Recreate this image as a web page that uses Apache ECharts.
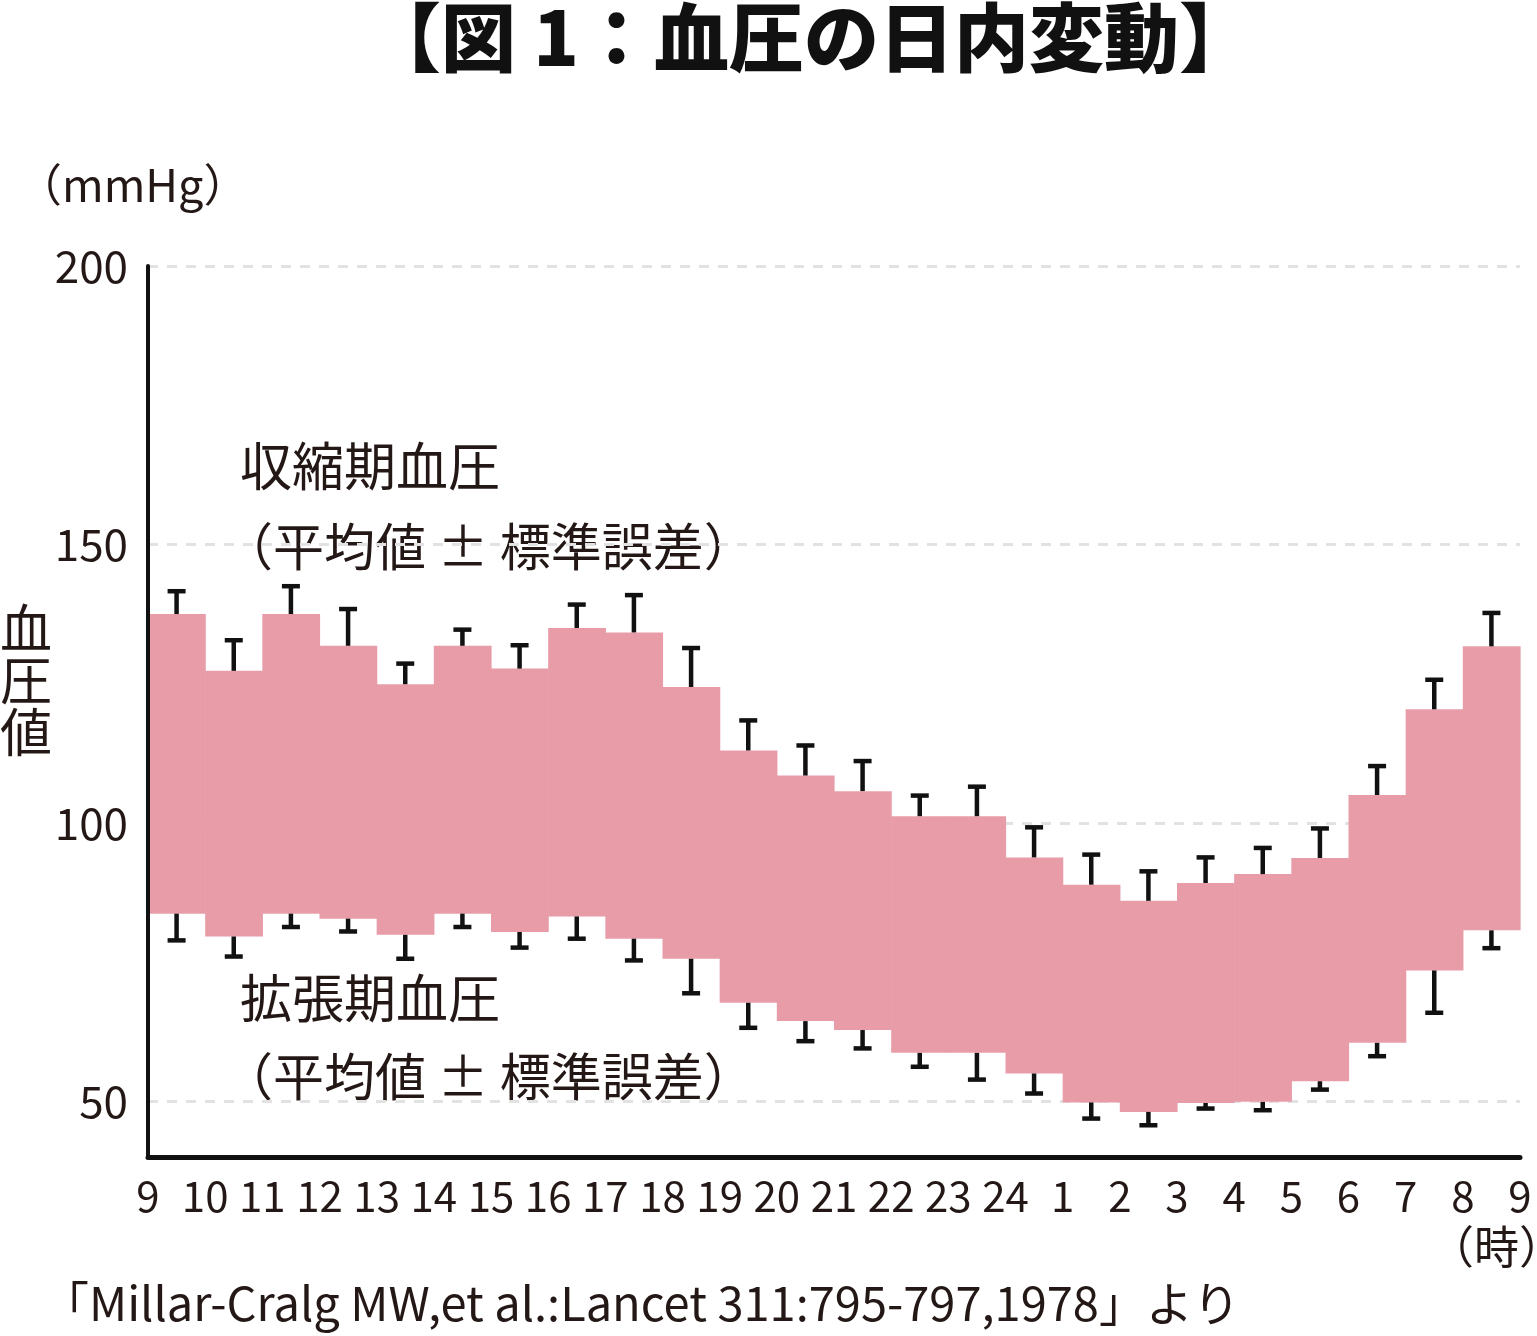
<!DOCTYPE html>
<html>
<head>
<meta charset="utf-8">
<script src="https://cdn.jsdelivr.net/npm/echarts@6/dist/echarts.min.js"></script>
<style>
html,body{margin:0;padding:0;background:#fff;}
#chart{width:1537px;height:1336px;}
</style>
</head>
<body>
<div id="chart"></div>
<script>
// hour labels at the boundaries of the 24 one-hour bins
var hourLabels = ["9","10","11","12","13","14","15","16","17","18","19","20","21","22","23","24","1","2","3","4","5","6","7","8","9"];
// systolic mean (top of band) and mean + SE
var systolic = [137.5,127.3,137.5,131.8,124.9,131.8,127.7,135.0,134.2,124.4,113.0,108.5,105.7,101.2,101.2,93.8,88.9,86.0,89.2,90.8,93.7,105.0,120.4,131.7];
var systolicUpper = [141.6,132.8,142.5,138.4,128.6,134.7,131.9,139.2,140.9,131.4,118.4,113.9,111.1,104.9,106.5,99.2,94.3,91.3,93.8,95.5,99.0,110.2,125.7,137.7];
// diastolic mean (bottom of band) and mean - SE
var diastolic = [83.7,79.6,83.7,82.8,79.9,83.7,80.4,83.2,79.2,75.6,67.7,64.4,62.8,58.7,58.7,55.0,49.8,48.1,49.7,49.9,53.6,60.5,73.5,80.7];
var diastolicLower = [78.9,76.0,81.3,80.5,75.6,81.3,77.6,79.2,75.3,69.4,63.2,60.8,59.5,56.2,53.9,51.4,46.9,45.7,48.7,48.4,52.1,58.1,65.9,77.5];
var gridValues = [50,100,150,200];

var FONT = '"Noto Sans CJK JP", "Noto Sans", sans-serif';
var TXT = '#231815';

var bandData = systolic.map(function(s, i){ return [i, diastolic[i], s]; });
var errData = systolic.map(function(s, i){ return [i, s, systolicUpper[i], diastolic[i], diastolicLower[i]]; });

var chart = echarts.init(document.getElementById('chart'), null, {renderer:'canvas'});
chart.setOption({
  backgroundColor:'#fff',
  animation:false,
  grid:{left:148, right:17, top:266, bottom:179, containLabel:false},
  xAxis:{
    type:'value', min:0, max:24, interval:1, z:20,
    axisLine:{show:true, onZero:false, lineStyle:{color:'#111', width:5}},
    axisTick:{show:false},
    splitLine:{show:false},
    axisLabel:{
      show:true, margin:18, color:TXT, fontFamily:FONT, fontSize:42,
      showMinLabel:true, showMaxLabel:true,
      formatter:function(v){ return hourLabels[Math.round(v)] || ''; }
    }
  },
  yAxis:{
    type:'value', min:40, max:200, interval:10, z:20,
    axisLine:{show:true, onZero:false, lineStyle:{color:'#111', width:4}},
    axisTick:{show:false},
    splitLine:{show:false},
    axisLabel:{
      show:true, margin:20, color:TXT, fontFamily:FONT, fontSize:44,
      formatter:function(v){ return gridValues.indexOf(v) >= 0 ? String(v) : ''; }
    }
  },
  series:[
    {
      type:'line', data:[], z:1, silent:true,
      markLine:{
        z:1, silent:true, symbol:['none','none'], label:{show:false},
        lineStyle:{type:[10,9], color:'#e2e2e2', width:3},
        emphasis:{disabled:true},
        data:gridValues.map(function(v){ return {yAxis:v}; })
      }
    },
    {
      type:'custom', z:10, silent:true,
      data:bandData,
      encode:{x:0, y:[1,2]},
      renderItem:function(params, api){
        var i = api.value(0);
        var p1 = api.coord([i, api.value(2)]);
        var p2 = api.coord([i+1, api.value(1)]);
        return {type:'rect', shape:{x:p1[0], y:p1[1], width:p2[0]-p1[0]+0.6, height:p2[1]-p1[1]},
                style:{fill:'#E89CA8'}};
      }
    },
    {
      type:'custom', z:11, silent:true,
      data:errData,
      encode:{x:0, y:[1,2,3,4]},
      renderItem:function(params, api){
        var i = api.value(0) + 0.5;
        var a = api.coord([i, api.value(1)]);
        var b = api.coord([i, api.value(2)]);
        var c = api.coord([i, api.value(3)]);
        var d = api.coord([i, api.value(4)]);
        var cap = 9;
        var st = {stroke:'#111', lineWidth:4.5};
        return {type:'group', children:[
          {type:'line', shape:{x1:a[0], y1:a[1], x2:b[0], y2:b[1]}, style:st},
          {type:'line', shape:{x1:b[0]-cap, y1:b[1], x2:b[0]+cap, y2:b[1]}, style:st},
          {type:'line', shape:{x1:c[0], y1:c[1], x2:d[0], y2:d[1]}, style:st},
          {type:'line', shape:{x1:d[0]-cap, y1:d[1], x2:d[0]+cap, y2:d[1]}, style:st}
        ]};
      }
    }
  ],
  graphic:[
    {type:'text', x:810, y:0, style:{text:'【図 1：血圧の日内変動】', font:'900 75px ' + FONT, fill:'#111', align:'center'}},
    {type:'text', left:17, top:162, style:{text:'（mmHg）', font:'400 45px ' + FONT, fill:TXT}},
    {type:'text', left:0, top:602, style:{text:'血\n圧\n値', font:'400 52px ' + FONT, fill:TXT, lineHeight:52}},
    {type:'text', left:240, top:440, style:{text:'収縮期血圧', font:'400 52px ' + FONT, fill:TXT}},
    {type:'text', left:222, top:521, style:{text:'（平均値 ± 標準誤差）', font:'400 51px ' + FONT, fill:TXT}},
    {type:'text', left:240, top:972, style:{text:'拡張期血圧', font:'400 52px ' + FONT, fill:TXT}},
    {type:'text', left:222, top:1051, style:{text:'（平均値 ± 標準誤差）', font:'400 51px ' + FONT, fill:TXT}},
    {type:'text', left:1429, top:1224, style:{text:'（時）', font:'400 45px ' + FONT, fill:TXT}},
    {type:'text', left:42, top:1280, style:{text:'「Millar-Cralg MW,et al.:Lancet 311:795-797,1978」より', font:'400 47px ' + FONT, fill:TXT}}
  ]
});
</script>
</body>
</html>
